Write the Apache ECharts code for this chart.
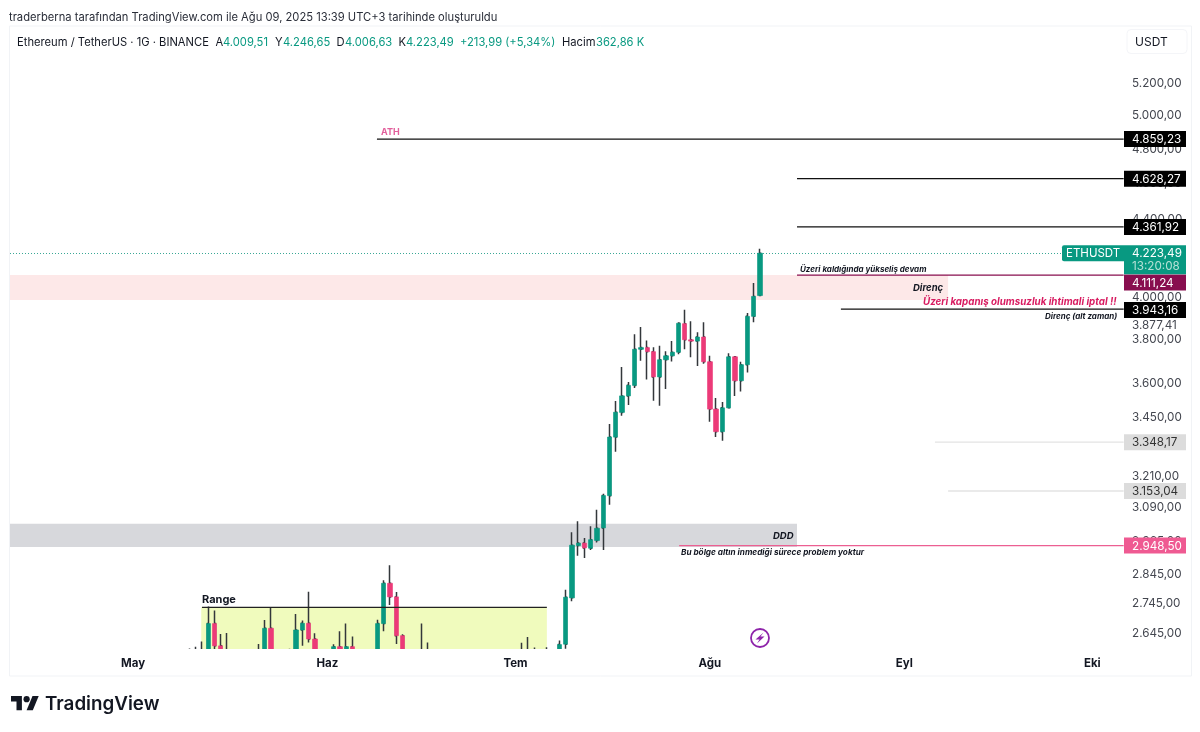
<!DOCTYPE html>
<html>
<head>
<meta charset="utf-8">
<title>ETHUSDT</title>
<style>
  html, body { margin: 0; padding: 0; background: #fff; }
  #chart { width: 1200px; height: 732px; }
</style>
<script src="https://cdn.jsdelivr.net/npm/echarts@6/dist/echarts.min.js"></script>
</head>
<body>
<div id="chart"></div>
<script>
// gunluk mumlar: sadece grafikte gorunen gunler, alt sinirin altinda kalanlar tahmini
var candleDates = [
  '05-10','05-11','05-12','05-13','05-14','05-15','05-16','05-21','05-22','05-23',
  '05-26','05-27','05-28','05-29','05-30','06-02','06-03','06-04','06-05','06-09',
  '06-10','06-11','06-12','06-13','06-16','06-17','07-02','07-03','07-04','07-06',
  '07-08','07-09','07-10','07-11','07-12','07-13','07-14','07-15','07-16','07-17',
  '07-18','07-19','07-20','07-21','07-22','07-23','07-24','07-25','07-26','07-27',
  '07-28','07-29','07-30','07-31','08-01','08-02','08-03','08-04','08-05','08-06',
  '08-07','08-08','08-09'
];
var opens = [
  2540,2550,2500,2500,2679,2606.6,2560,2490,2520,2663.5,
  2530,2560,2658,2680,2628.6,2540,2604,2580,2604,2520,
  2679,2815,2768.3,2639.5,2530,2530,2480,2560,2590,2570,
  2570,2612,2765,2948.6,2957.5,2938.9,2967,3013.3,3135,3369,
  3473,3544,3590,3753,3760.7,3742,3627.8,3705,3723,3739.5,
  3873,3797,3791,3810,3696,3487,3391.7,3492.5,3718.5,3611,
  3682.7,3908,4009.51
];
var highs = [
  2598,2604,2621,2736,2722.7,2645,2648,2613,2691,2732.6,
  2597.7,2711,2689,2785.8,2647,2612,2653.6,2679,2637,2692,
  2825.4,2877.9,2784.8,2643.7,2679,2617.4,2617,2635,2601,2602,
  2624,2792.8,2997,3037.9,2976,3019,3081,3142,3424,3522,
  3672.5,3605.4,3822.5,3857.6,3794,3762.6,3768.8,3744,3791,3879.5,
  3939.8,3884,3832,3879.5,3723,3535,3517.7,3735,3719.5,3696,
  3924,4071.7,4246.65
];
var lows = [
  2500,2470,2440,2480,2550,2500,2520,2470,2500,2500,
  2510,2500,2606.6,2617.4,2500,2520,2550,2560,2450,2510,
  2653.6,2741.3,2613,2450,2500,2460,2440,2530,2530,2550,
  2550,2597.7,2753.5,2911.8,2903.8,2932.6,2959.8,2932.6,3100,3309.3,
  3458.9,3505,3578.6,3700.6,3615.7,3523,3501,3574,3697.5,3730.6,
  3753,3717,3677,3687,3433.7,3369,3354,3490,3544,3563.4,
  3648,3879.5,4006.63
];
var closes = [
  2580,2575,2560,2679,2606.6,2545,2575,2560,2663.5,2530,
  2560,2658,2680,2628.6,2530,2604,2570,2604,2480,2679,
  2815,2768.3,2639.5,2580,2560,2510,2560,2590,2560,2580,
  2610.8,2767.3,2950,2957.5,2940,2969.8,3011.8,3135.5,3369.4,3473.6,
  3544,3590.2,3753,3760.7,3742.2,3627.8,3705,3723,3739.5,3874.7,
  3797.3,3791,3810,3696,3487,3391.7,3492.5,3718.5,3611,3682.7,
  3908,4005,4223.49
];

// fiyat ekseni etiketleri
var priceTicks = [5440,5200,5000,4800,4600,4400,4200,4000,3800,3600,3450,3340,3210,3090,2965,2845,2745,2645];
var monthLabels = { '05-01': 'May', '06-01': 'Haz', '07-01': 'Tem', '08-01': 'Ağu', '09-01': 'Eyl', '10-01': 'Eki' };

// seviyeler ve bolgeler (x degeri: eksenin basindan itibaren gun)
var levelPrices = [4859.23, 4628.27, 4361.92, 4111.24, 3943.16, 3348.17, 3153.04, 2948.5, 2733];
var levelStartDays = [58.4, 125.4, 125.4, 125.4, 132.4, 147.4, 149.5, 106.6, 30.5];
var levelEndDays = [177.5, 177.5, 177.5, 177.5, 177.5, 177.5, 177.5, 177.5, 85.5];
var levelColors = ['#111', '#111', '#111', '#880e4f', '#111', '#e3e3e3', '#e3e3e3', '#ec5f92', '#222'];

var zoneTops = [4111.24, 3029, 2733];
var zoneBottoms = [3987, 2943, 2560];
var zoneStartDays = [0, 0, 30.5];
var zoneEndDays = [149.5, 125.4, 85.5];
var zoneColors = ['#fde8e8', '#d7d8dc', '#f0fbbd'];

var lastPrice = 4223.49;
var tagPrices = [4859.23, 4628.27, 4361.92, 4111.24, 3943.16, 3877.41, 3348.17, 3153.04, 2948.5];
var tagTexts = ['4.859,23', '4.628,27', '4.361,92', '4.111,24', '3.943,16', '3.877,41', '3.348,17', '3.153,04', '2.948,50'];
var tagColors = ['#000', '#000', '#000', '#880e4f', '#000', 'transparent', '#dcdcdc', '#dcdcdc', '#ef5a92'];
var tagTextColors = ['#fff', '#fff', '#fff', '#fff', '#fff', '#43464f', '#333', '#333', '#fff'];
var tagShifts = [0, 0, 0, 7.5, 1, 2, 0, 0, 0];

// Nisan 12 den baslayan gunler, eksen 178 gun
var categories = [];
var monthDays = [['04', 12, 30], ['05', 1, 31], ['06', 1, 30], ['07', 1, 31], ['08', 1, 31], ['09', 1, 30], ['10', 1, 6]];
monthDays.forEach(function (m) {
  for (var d = m[1]; d <= m[2]; d++) {
    categories.push(m[0] + '-' + (d < 10 ? '0' : '') + d);
  }
});

function fmtPrice(v) {
  var parts = v.toFixed(2).split('.');
  return parts[0].replace(/\B(?=(\d{3})+$)/g, '.') + ',' + parts[1];
}

var wickData = categories.map(function (c) {
  var i = candleDates.indexOf(c);
  return i < 0 ? ['-', '-', '-', '-'] : [opens[i], closes[i], lows[i], highs[i]];
});
var bodyData = categories.map(function (c) {
  var i = candleDates.indexOf(c);
  if (i < 0) return ['-', '-', '-', '-'];
  return [opens[i], closes[i], Math.min(opens[i], closes[i]), Math.max(opens[i], closes[i])];
});

var font = 'Inter, "Liberation Sans", sans-serif';
var green = '#089981';
var red = '#ec3a78';

function txt(text, x, y, size, color, extra) {
  var st = { text: text, x: 0, y: 0, fontFamily: font, fontSize: size, fill: color, textVerticalAlign: 'middle' };
  for (var k in (extra || {})) st[k] = extra[k];
  return { type: 'text', x: x, y: y, z: 20, style: st };
}

var legendRow = [
  ['Ethereum / TetherUS · 1G · BINANCE', 17, '#131722'],
  ['A', 215.5, '#131722'], ['4.009,51', 223, green],
  ['Y', 275, '#131722'], ['4.246,65', 283, green],
  ['D', 336.5, '#131722'], ['4.006,63', 345, green],
  ['K', 398.5, '#131722'], ['4.223,49', 406, green],
  ['+213,99 (+5,34%)', 460, green],
  ['Hacim', 562, '#131722'], ['362,86 K', 596, green]
];

var graphics = [
  // eksenin altina tasan mumlari kapatir, mumlar grafikte alt sinirda kesilir
  { type: 'rect', z: 4.5, shape: { x: 0, y: 649, width: 1200, height: 83 }, style: { fill: '#fff' } },
  { type: 'rect', z: 6, shape: { x: 9.5, y: 26, width: 1182, height: 650 }, style: { fill: 'none', stroke: '#f1f3f6', lineWidth: 1 } },
  txt('traderberna tarafından TradingView.com ile Ağu 09, 2025 13:39 UTC+3 tarihinde oluşturuldu', 9, 17.5, 11.2, '#2a2e39'),
  { type: 'rect', z: 19, shape: { x: 1127, y: 29.5, width: 60, height: 24, r: 4 }, style: { fill: '#fff', stroke: '#f4f5f8', lineWidth: 1 } },
  txt('USDT', 1135, 42, 12, '#131722'),
  txt('ATH', 381, 132, 9, '#e2609c', { fontWeight: 'bold' }),
  txt('Range', 202, 599.5, 11, '#131722', { fontWeight: 'bold' }),
  txt('DDD', 773, 536, 9.5, '#131722', { fontWeight: 'bold', fontStyle: 'italic' }),
  txt('Bu bölge altın inmediği sürece problem yoktur', 681, 553, 8.2, '#131722', { fontWeight: 'bold', fontStyle: 'italic' }),
  txt('Üzeri kaldığında yükseliş devam', 800, 270, 8, '#131722', { fontWeight: 'bold', fontStyle: 'italic' }),
  txt('Direnç', 913, 288, 9.5, '#131722', { fontWeight: 'bold', fontStyle: 'italic' }),
  txt('Üzeri kapanış olumsuzluk ihtimali iptal !!', 923, 302, 9.8, '#d81b60', { fontWeight: 'bold', fontStyle: 'italic' }),
  txt('Direnç (alt zaman)', 1045, 317, 8, '#131722', { fontWeight: 'bold', fontStyle: 'italic' }),
  // simsek ikonu
  { type: 'circle', z: 20, shape: { cx: 760, cy: 638, r: 9 }, style: { fill: '#fff', stroke: '#8e24aa', lineWidth: 1.8 } },
  { type: 'polygon', z: 21, shape: { points: [[763.5, 632.5], [755.5, 639.5], [759.5, 639.5], [757, 643.5], [764.5, 636.5], [760.5, 636.5]] }, style: { fill: '#8e24aa' } },
  // TradingView logosu
  { type: 'polygon', z: 20, shape: { points: [[11, 696.1], [21.9, 696.1], [21.9, 710.2], [16.5, 710.2], [16.5, 701.6], [11, 701.6]] }, style: { fill: '#131722' } },
  { type: 'polygon', z: 20, shape: { points: [[32.5, 696.1], [38.7, 696.1], [32.8, 710.2], [26.6, 710.2]] }, style: { fill: '#131722' } },
  { type: 'circle', z: 20, shape: { cx: 26.6, cy: 699.2, r: 3.1 }, style: { fill: '#131722' } },
  txt('TradingView', 45, 704, 18.8, '#131722', { fontWeight: 600 })
];
legendRow.forEach(function (r) { graphics.push(txt(r[0], r[1], 42.5, 11.2, r[2])); });

var chart = echarts.init(document.getElementById('chart'), null, { renderer: 'canvas' });

chart.setOption({
  animation: false,
  backgroundColor: '#fff',
  grid: { left: 10.8, top: 27, right: 73.2, bottom: 83 },
  graphic: graphics,
  xAxis: [
    {
      type: 'category', data: categories, boundaryGap: true, z: 6,
      axisLine: { show: false }, axisTick: { show: false }, splitLine: { show: false },
      axisLabel: {
        interval: function (i, v) { return !!monthLabels[v]; },
        formatter: function (v) { return monthLabels[v] || ''; },
        fontFamily: font, fontSize: 11.5, fontWeight: 'bold', color: '#131722', margin: 9
      }
    },
    // bolge ve seviyeler icin gun olcegi
    { type: 'value', min: 0, max: 178, show: false }
  ],
  yAxis: {
    type: 'log', position: 'right', min: 2596.6, max: 5577, scale: true,
    axisLine: { show: false }, axisTick: { show: false }, splitLine: { show: false },
    axisLabel: {
      customValues: priceTicks, formatter: fmtPrice, padding: [4, 0, 0, 0],
      margin: 5.2, fontFamily: font, fontSize: 11.7, color: '#43464f', hideOverlap: false, showMinLabel: true, showMaxLabel: true
    }
  },
  series: [
    {
      // bolgeler
      type: 'custom', xAxisIndex: 1, z: 1, silent: true,
      data: zoneTops.map(function (t, i) { return [zoneStartDays[i], t, zoneEndDays[i], zoneBottoms[i]]; }),
      renderItem: function (params, api) {
        var a = api.coord([api.value(0), api.value(1)]);
        var b = api.coord([api.value(2), api.value(3)]);
        return {
          type: 'rect',
          shape: echarts.graphic.clipRectByRect(
            { x: a[0] - 0.8, y: a[1], width: b[0] - a[0] + 0.8, height: b[1] - a[1] },
            { x: params.coordSys.x - 0.8, y: params.coordSys.y, width: params.coordSys.width, height: params.coordSys.height }
          ),
          style: { fill: zoneColors[params.dataIndex] }
        };
      }
    },
    {
      // son fiyat noktali cizgi
      type: 'custom', xAxisIndex: 1, z: 2, silent: true, clip: false,
      data: [[0, lastPrice, 167.7]],
      renderItem: function (params, api) {
        var a = api.coord([api.value(0), api.value(1)]);
        var b = api.coord([api.value(2), api.value(1)]);
        var y = Math.round(a[1]) + 0.5;
        return { type: 'line', shape: { x1: a[0] - 0.8, y1: y, x2: b[0], y2: y }, style: { stroke: '#3aa896', lineWidth: 1, lineDash: [1, 2] } };
      }
    },
    {
      name: 'wick', type: 'candlestick', z: 3, barWidth: 1.5, data: wickData,
      itemStyle: { color: '#33373b', color0: '#33373b', borderColor: '#33373b', borderColor0: '#33373b', borderWidth: 1.5 }
    },
    {
      name: 'body', type: 'candlestick', z: 4, barWidth: 4.8, data: bodyData,
      itemStyle: { color: green, color0: red, borderColor: green, borderColor0: red, borderWidth: 0.6 }
    },
    {
      // yatay seviyeler
      type: 'custom', xAxisIndex: 1, z: 5, silent: true, clip: false,
      data: levelPrices.map(function (p, i) { return [levelStartDays[i], p, levelEndDays[i]]; }),
      renderItem: function (params, api) {
        var a = api.coord([api.value(0), api.value(1)]);
        var b = api.coord([api.value(2), api.value(1)]);
        return {
          type: 'line', shape: { x1: a[0], y1: a[1], x2: b[0], y2: b[1] },
          style: { stroke: levelColors[params.dataIndex], lineWidth: 1.3 }
        };
      }
    },
    {
      // sag taraftaki fiyat etiketleri
      type: 'custom', xAxisIndex: 1, z: 10, silent: true, clip: false,
      data: tagPrices.map(function (p, i) { return [0, p]; }),
      renderItem: function (params, api) {
        var i = params.dataIndex;
        var y = api.coord([0, api.value(1)])[1] + tagShifts[i];
        return {
          type: 'group',
          children: [
            { type: 'rect', shape: { x: 1124, y: y - 8, width: 62, height: 16 }, style: { fill: tagColors[i] } },
            { type: 'text', x: 1132, y: y + 0.5, style: { text: tagTexts[i], fill: tagTextColors[i], fontFamily: font, fontSize: 11.7, textVerticalAlign: 'middle' } }
          ]
        };
      }
    },
    {
      // son fiyat etiketi
      type: 'custom', xAxisIndex: 1, z: 11, silent: true, clip: false,
      data: [[0, lastPrice]],
      renderItem: function (params, api) {
        var y = api.coord([0, api.value(1)])[1];
        return {
          type: 'group',
          children: [
            { type: 'rect', shape: { x: 1062, y: y - 8, width: 62, height: 16, r: [2, 0, 0, 2] }, style: { fill: green } },
            { type: 'text', x: 1066, y: y + 0.5, style: { text: 'ETHUSDT', fill: '#fff', fontFamily: font, fontSize: 11.5, textVerticalAlign: 'middle' } },
            { type: 'rect', shape: { x: 1124, y: y - 8, width: 62, height: 29 }, style: { fill: green } },
            { type: 'text', x: 1132, y: y + 0.5, style: { text: '4.223,49', fill: '#fff', fontFamily: font, fontSize: 11.7, textVerticalAlign: 'middle' } },
            { type: 'text', x: 1132, y: y + 13.5, style: { text: '13:20:08', fill: '#b5e0d6', fontFamily: font, fontSize: 11.7, textVerticalAlign: 'middle' } }
          ]
        };
      }
    }
  ]
});
</script>
</body>
</html>
